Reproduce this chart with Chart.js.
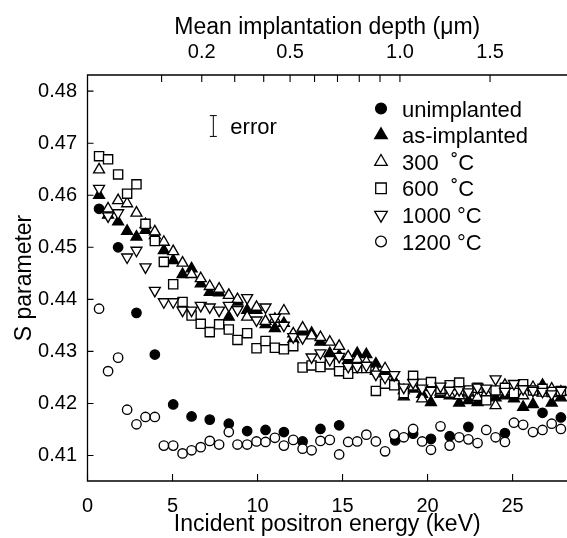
<!DOCTYPE html>
<html>
<head>
<meta charset="utf-8">
<script src="https://cdn.jsdelivr.net/npm/chart.js@4.4.0/dist/chart.umd.min.js"></script>
<style>
  html, body { margin: 0; padding: 0; background: #fff; }
  #wrap { width: 567px; height: 538px; }
</style>
</head>
<body>
<div id="wrap"><canvas id="chart" width="567" height="538"></canvas></div>
<script>
// incident positron energy (keV), shared by the 0.5 keV step scans
const energy = [0.68, 1.21, 1.8, 2.33, 2.88, 3.41, 3.96, 4.49, 5.04, 5.59,
    6.12, 6.66, 7.19, 7.74, 8.31, 8.82, 9.39, 9.94, 10.47, 11.02,
    11.55, 12.1, 12.65, 13.18, 13.7, 14.25, 14.8, 15.33, 15.86, 16.4,
    16.96, 17.5, 18.04, 18.6, 19.15, 19.68, 20.2, 20.76, 21.3, 21.86,
    22.4, 22.94, 23.45, 24.0, 24.55, 25.08, 25.62, 26.2, 26.76, 27.3, 27.84];

// unimplanted was measured on a coarser grid
const energyUnimplanted = [0.68, 1.8, 2.88, 3.96, 5.04, 6.12, 7.19, 8.31, 9.39, 10.47,
    11.55, 12.65, 13.7, 14.8, 18.1, 19.15, 20.2, 21.3, 22.4, 24.55, 26.76, 27.84];
const sUnimplanted = [0.4574, 0.4500, 0.4374, 0.4294, 0.4198, 0.4175, 0.4169, 0.4161, 0.4147, 0.4149,
    0.4145, 0.4127, 0.4151, 0.4158, 0.4129, 0.4142, 0.4132, 0.4137, 0.4155, 0.4143, 0.4182, 0.4173];

const sAsImplanted = [0.4600, 0.4562, 0.4549, 0.4531, 0.4520, 0.4533, 0.4523, 0.4494, 0.4475, 0.4448,
    0.4459, 0.4430, 0.4414, 0.4413, 0.4366, 0.4395, 0.4379, 0.4379, 0.4352, 0.4344,
    0.4354, 0.4323, 0.4340, 0.4335, 0.4318, 0.4296, 0.4292, 0.4283, 0.4296, 0.4294,
    0.4276, 0.4257, 0.4244, 0.4213, 0.4228, 0.4218, 0.4202, 0.4218, 0.4215, 0.4201,
    0.4206, 0.4202, 0.4213, 0.4211, 0.4215, 0.4209, 0.4193, 0.4198, 0.4235, 0.4201, 0.4211];

const s300 = [0.4649, 0.4574, 0.4590, 0.4584, 0.4566, 0.4544, 0.4530, 0.4510, 0.4492, 0.4470,
    0.4448, 0.4440, 0.4425, 0.4420, 0.4408, 0.4400, 0.4366, 0.4385, 0.4358, 0.4362,
    0.4378, 0.4334, 0.4345, 0.4330, 0.4327, 0.4318, 0.4310, 0.4290, 0.4285, 0.4280,
    0.4262, 0.4267, 0.4240, 0.4225, 0.4232, 0.4209, 0.4231, 0.4222, 0.4218, 0.4215,
    0.4220, 0.4212, 0.4220, 0.4196, 0.4235, 0.4222, 0.4215, 0.4231, 0.4220, 0.4228, 0.4222];

const s600 = [0.4675, 0.4669, 0.4640, 0.4603, 0.4621, 0.4545, 0.4512, 0.4472, 0.4429, 0.4395,
    0.4369, 0.4353, 0.4337, 0.4352, 0.4342, 0.4322, 0.4335, 0.4306, 0.4320, 0.4307,
    0.4304, 0.4310, 0.4269, 0.4273, 0.4270, 0.4275, 0.4262, 0.4257, 0.4268, 0.4268,
    0.4224, 0.4238, 0.4235, 0.4220, 0.4253, 0.4238, 0.4241, 0.4228, 0.4235, 0.4240,
    0.4225, 0.4230, 0.4206, 0.4225, 0.4230, 0.4220, 0.4237, 0.4225, 0.4228, 0.4222, 0.4224];

const s1000 = [0.4613, 0.4560, 0.4566, 0.4481, 0.4494, 0.4462, 0.4417, 0.4395, 0.4395, 0.4379,
    0.4379, 0.4388, 0.4385, 0.4379, 0.4388, 0.4380, 0.4403, 0.4360, 0.4385, 0.4365,
    0.4350, 0.4328, 0.4326, 0.4289, 0.4297, 0.4284, 0.4290, 0.4271, 0.4271, 0.4273,
    0.4256, 0.4250, 0.4255, 0.4231, 0.4240, 0.4229, 0.4225, 0.4233, 0.4225, 0.4226,
    0.4222, 0.4231, 0.4229, 0.4247, 0.4223, 0.4238, 0.4228, 0.4225, 0.4223, 0.4218, 0.4225];

const s1200 = [0.4382, 0.4262, 0.4288, 0.4188, 0.4160, 0.4174, 0.4174, 0.4119, 0.4119, 0.4104,
    0.4110, 0.4116, 0.4128, 0.4121, 0.4145, 0.4121, 0.4121, 0.4127, 0.4126, 0.4134,
    0.4119, 0.4130, 0.4113, 0.4110, 0.4128, 0.4130, 0.4102, 0.4126, 0.4127, 0.4140,
    0.4127, 0.4108, 0.4140, 0.4135, 0.4151, 0.4127, 0.4111, 0.4156, 0.4119, 0.4135,
    0.4131, 0.4124, 0.4149, 0.4135, 0.4126, 0.4163, 0.4159, 0.4145, 0.4149, 0.4161, 0.4151];

const legendLabels = ['unimplanted', 'as-implanted', '300  \u02DAC', '600  \u02DAC', '1000 \u00B0C', '1200 \u00B0C'];

const xTicks = [0, 5, 10, 15, 20, 25];
const yTicks = [0.41, 0.42, 0.43, 0.44, 0.45, 0.46, 0.47, 0.48];
const depthTicks = [0.1, 0.2, 0.3, 0.4, 0.5, 0.6, 0.7, 0.8, 0.9, 1.0, 1.5];
const depthLabels = ['0.2', '0.5', '1.0', '1.5'];

// mean depth (um) = A * E^n
const depthA = 0.00949, depthN = 1.6;
const depthToE = d => Math.pow(d / depthA, 1 / depthN);

const errorE = 7.4, errorS = 0.4733, errorHalf = 0.002;

const FONT = "'Liberation Sans', Arial, Helvetica, sans-serif";
const toPoints = (xs, ys) => xs.map((x, i) => ({ x: x, y: ys[i] }));

const marker = (label, data, style, fill, radius, order, rotation) => ({
    label: label,
    data: data,
    showLine: false,
    pointStyle: style,
    pointRadius: radius,
    pointRotation: rotation || 0,
    pointBackgroundColor: fill,
    pointBorderColor: '#000',
    pointBorderWidth: 1.35,
    order: order,
    clip: false,
});

const datasets = [
    marker(legendLabels[0], toPoints(energyUnimplanted, sUnimplanted), 'circle', '#000', 4.7, 5),
    marker(legendLabels[1], toPoints(energy, sAsImplanted), 'triangle', '#000', 6.3, 4),
    marker(legendLabels[2], toPoints(energy, s300), 'triangle', '#fff', 6.3, 3),
    marker(legendLabels[3], toPoints(energy, s600), 'rect', '#fff', 6.5, 2),
    marker(legendLabels[4], toPoints(energy, s1000), 'triangle', '#fff', 6.3, 1, 180),
    marker(legendLabels[5], toPoints(energy, s1200), 'circle', '#fff', 4.7, 0),
];

// axis lines and inward tick marks
const framePlugin = {
    id: 'frame',
    beforeDatasetsDraw(chart) {
        const { ctx, chartArea: a, scales } = chart;
        ctx.save();
        ctx.strokeStyle = '#000';
        ctx.lineWidth = 1.3;
        ctx.beginPath();
        ctx.moveTo(a.right + 2, a.top);
        ctx.lineTo(a.left, a.top);
        ctx.lineTo(a.left, a.bottom);
        ctx.lineTo(a.right + 2, a.bottom);
        ctx.stroke();

        ctx.lineWidth = 1.1;
        ctx.beginPath();
        scales.x.ticks.forEach(t => {
            const px = scales.x.getPixelForValue(t.value);
            ctx.moveTo(px, a.bottom);
            ctx.lineTo(px, a.bottom - 7);
        });
        scales.x2.ticks.forEach(t => {
            const px = scales.x2.getPixelForValue(t.value);
            ctx.moveTo(px, a.top);
            ctx.lineTo(px, a.top + 7);
        });
        scales.y.ticks.forEach(t => {
            const py = scales.y.getPixelForValue(t.value);
            ctx.moveTo(a.left, py);
            ctx.lineTo(a.left + 6, py);
        });
        ctx.stroke();
        ctx.restore();
    },
    afterDraw(chart) {
        const { ctx, scales } = chart;
        ctx.save();
        // error bar
        const ex = scales.x.getPixelForValue(errorE);
        const eTop = scales.y.getPixelForValue(errorS + errorHalf);
        const eBot = scales.y.getPixelForValue(errorS - errorHalf);
        ctx.strokeStyle = '#000';
        ctx.lineWidth = 1;
        ctx.beginPath();
        ctx.moveTo(ex, eTop); ctx.lineTo(ex, eBot);
        ctx.moveTo(ex - 3.5, eTop); ctx.lineTo(ex + 3.5, eTop);
        ctx.moveTo(ex - 3.5, eBot); ctx.lineTo(ex + 3.5, eBot);
        ctx.stroke();
        ctx.fillStyle = '#000';
        ctx.font = '22px ' + FONT;
        ctx.textBaseline = 'middle';
        ctx.textAlign = 'left';
        ctx.fillText('error', ex + 17, (eTop + eBot) / 2 + 2);

        // legend
        const lx = 381, ly0 = 108.5, step = 26.6;
        chart.data.datasets.forEach((ds, i) => {
            const y = ly0 + i * step;
            ctx.fillStyle = ds.pointBackgroundColor;
            ctx.strokeStyle = '#000';
            ctx.lineWidth = 1.3;
            Chart.helpers.drawPoint(ctx, {
                pointStyle: ds.pointStyle,
                rotation: ds.pointRotation,
                radius: ds.pointRadius * 1.15,
                borderWidth: 1.3,
            }, lx, y);
            ctx.fillStyle = '#000';
            ctx.fillText(ds.label, 402, y + 2);
        });
        ctx.restore();
    },
};

const tickFont = { family: FONT, size: 20 };
const titleFont = { family: FONT, size: 23 };

new Chart(document.getElementById('chart').getContext('2d'), {
    type: 'scatter',
    data: { datasets: datasets },
    options: {
        responsive: false,
        animation: false,
        events: [],
        layout: { padding: 0, autoPadding: false },
        plugins: {
            legend: { display: false },
            tooltip: { enabled: false },
        },
        scales: {
            x: {
                type: 'linear',
                position: 'bottom',
                min: 0,
                max: 28.2,
                afterBuildTicks: s => { s.ticks = xTicks.map(v => ({ value: v })); },
                afterFit: s => { s.height = 57; },
                grid: { display: false, drawTicks: false },
                border: { display: false },
                ticks: { font: tickFont, color: '#000', padding: 13, maxRotation: 0, autoSkip: false },
                title: {
                    display: true,
                    text: 'Incident positron energy (keV)',
                    font: titleFont,
                    color: '#000',
                    padding: { top: 0, bottom: 0 },
                },
            },
            x2: {
                type: 'linear',
                position: 'top',
                min: 0,
                max: 28.2,
                afterBuildTicks: s => { s.ticks = depthTicks.map(d => ({ value: depthToE(d) })); },
                afterFit: s => { s.height = 75; },
                grid: { display: false, drawTicks: false },
                border: { display: false },
                ticks: {
                    font: tickFont,
                    color: '#000',
                    padding: 10.2,
                    maxRotation: 0,
                    autoSkip: false,
                    callback: (v, i) => {
                        const lbl = depthTicks[i].toFixed(1);
                        return depthLabels.includes(lbl) ? lbl : '';
                    },
                },
                title: {
                    display: true,
                    text: 'Mean implantation depth (\u03BCm)',
                    font: titleFont,
                    color: '#000',
                    padding: { top: 14, bottom: 0 },
                },
            },
            y: {
                type: 'linear',
                position: 'left',
                min: 0.4051,
                max: 0.4831,
                afterBuildTicks: s => { s.ticks = yTicks.map(v => ({ value: v })); },
                afterFit: s => { s.width = 87.5; },
                grid: { display: false, drawTicks: false },
                border: { display: false },
                ticks: { font: tickFont, color: '#000', padding: 10.5, callback: v => v.toFixed(2) },
                title: {
                    display: true,
                    text: 'S parameter',
                    font: titleFont,
                    color: '#000',
                    padding: { top: 11, bottom: 0 },
                },
            },
        },
    },
    plugins: [framePlugin],
});
</script>
</body>
</html>
